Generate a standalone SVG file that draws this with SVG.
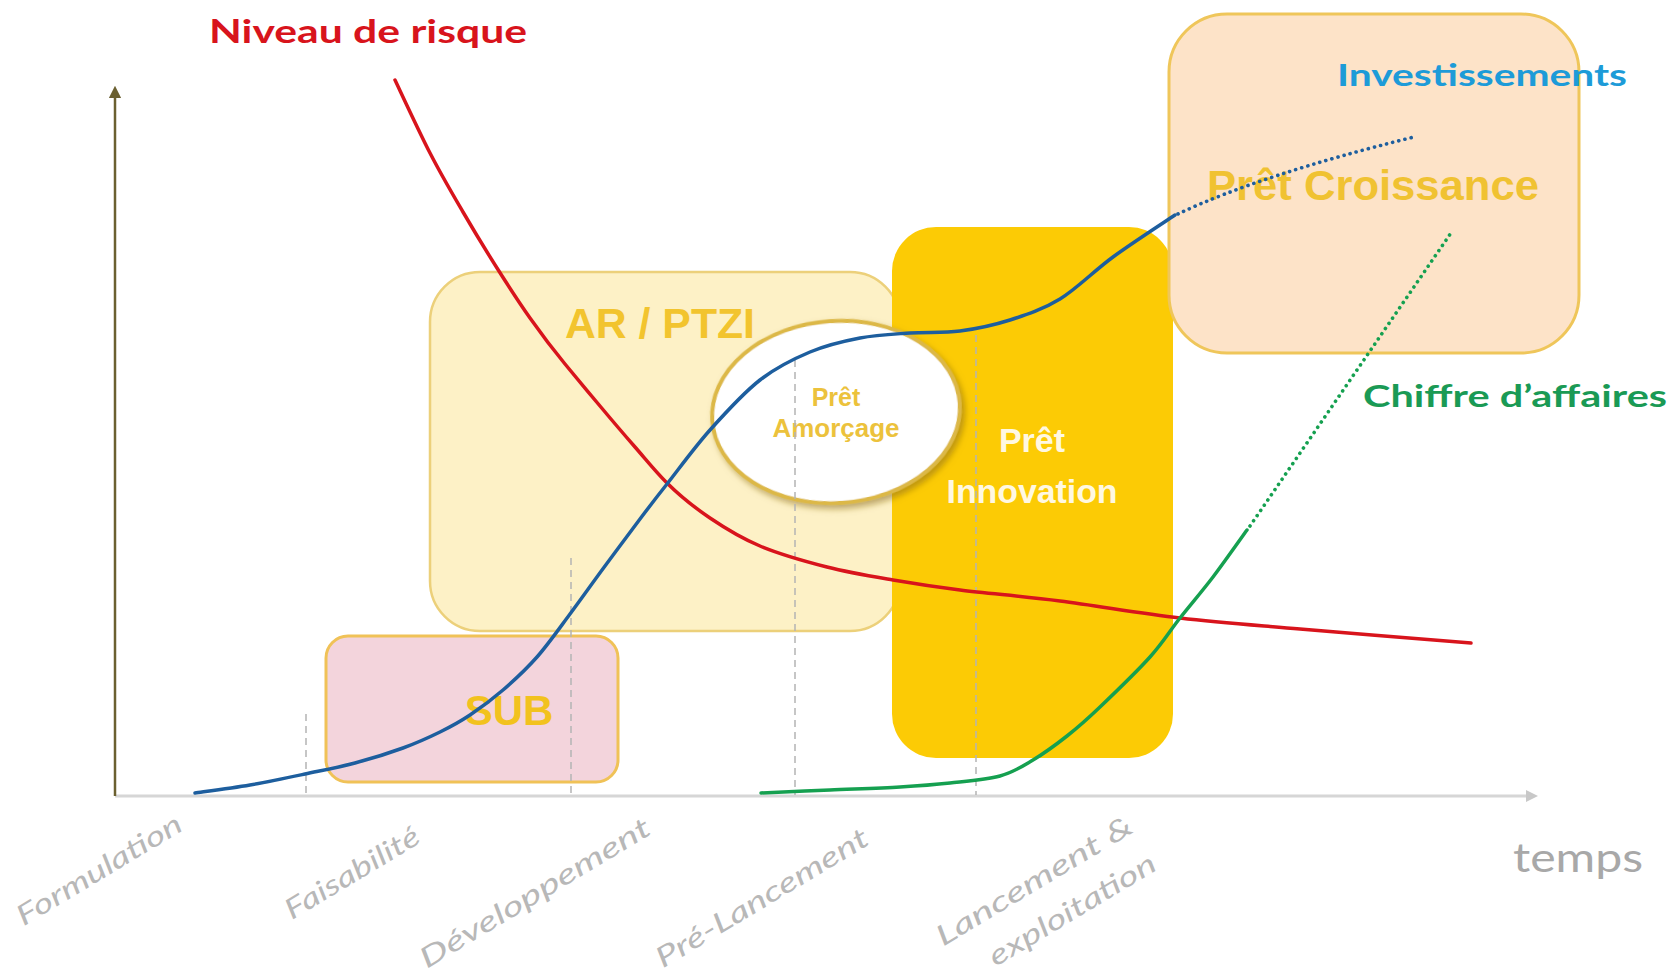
<svg xmlns="http://www.w3.org/2000/svg" width="1673" height="973" viewBox="0 0 1673 973">
<style>
.lbl{font-family:Lato,"Liberation Sans",sans-serif;font-weight:bold}
.box{font-family:"Liberation Sans",Arial,sans-serif;font-weight:bold;text-anchor:middle}
.ax{font-family:Lato,"Liberation Sans",sans-serif;font-style:italic;font-size:28px;fill:#b8b8b8;text-anchor:middle}
.dash{stroke:#b4b4b4;stroke-width:1.5;stroke-dasharray:7 5;fill:none}
.curve{fill:none;stroke-width:3.5;stroke-linecap:round;stroke-linejoin:round}
.dots{fill:none;stroke-width:3.6;stroke-linecap:round;stroke-dasharray:0.1 6.2}
</style>
<defs>
<marker id="arrUp" viewBox="0 0 10 10" refX="5" refY="5" markerWidth="5" markerHeight="5" orient="auto">
<path d="M0,0 L10,5 L0,10 z" fill="#6b6030"/>
</marker>
<marker id="arrRight" viewBox="0 0 10 10" refX="5" refY="5" markerWidth="4" markerHeight="4" orient="auto">
<path d="M0,0 L10,5 L0,10 z" fill="#c8c8c8"/>
</marker>
<filter id="shadow" x="-20%" y="-20%" width="140%" height="140%">
<feDropShadow dx="3" dy="4" stdDeviation="3" flood-color="#8a6a10" flood-opacity="0.55"/>
</filter>
</defs>
<rect width="1673" height="973" fill="#ffffff"/>

<g id="axes">
<line x1="115" y1="796" x2="1532" y2="796" stroke="#d6d6d6" stroke-width="3" marker-end="url(#arrRight)"/>
<line x1="115" y1="796" x2="115" y2="92" stroke="#6b6030" stroke-width="2.5" marker-end="url(#arrUp)"/>
</g>

<g id="node-ar">
<rect x="430" y="272" width="470" height="359" rx="50" fill="#fdf1c6" stroke="#ecd07a" stroke-width="2.5"/>
<text class="box" x="660" y="338" font-size="42" fill="#f2c42e" textLength="190" lengthAdjust="spacingAndGlyphs">AR / PTZI</text>
</g>

<g id="node-sub">
<rect x="326" y="636" width="292" height="146" rx="22" fill="#f3d4dc" stroke="#f0c257" stroke-width="3"/>
<text class="box" x="509" y="725" font-size="42" fill="#f2c21e">SUB</text>
</g>

<g id="node-innovation">
<rect x="892" y="227" width="281" height="531" rx="44" fill="#fccb05"/>
<text class="box" x="1032" y="452" font-size="34" fill="#fff8e2">Prêt</text>
<text class="box" x="1032" y="503" font-size="34" fill="#fff8e2" textLength="171" lengthAdjust="spacingAndGlyphs">Innovation</text>
</g>

<g id="node-croissance">
<rect x="1169" y="14" width="410" height="339" rx="58" fill="#fde3c8" stroke="#efc65a" stroke-width="3"/>
<text class="box" x="1373" y="200" font-size="42" fill="#f0c232" textLength="332" lengthAdjust="spacingAndGlyphs">Prêt Croissance</text>
</g>

<g id="node-amorcage">
<ellipse cx="836" cy="412" rx="124" ry="91" transform="rotate(-4 836 412)" fill="#ffffff" stroke="#dcb846" stroke-width="4" filter="url(#shadow)"/>
<text class="box" x="836" y="406" font-size="25" fill="#ecc23c">Prêt</text>
<text class="box" x="836" y="437" font-size="25" fill="#ecc23c" textLength="127" lengthAdjust="spacingAndGlyphs">Amorçage</text>
</g>

<g id="guides">
<line class="dash" x1="306" y1="714" x2="306" y2="795"/>
<line class="dash" x1="571" y1="558" x2="571" y2="795"/>
<line class="dash" x1="795" y1="360" x2="795" y2="795"/>
<line class="dash" x1="976" y1="335" x2="976" y2="795"/>
</g>

<g id="connectors">
<path id="risque" class="curve" stroke="#d8141c" d="M395,80 C400.8,92.2 418.7,131 430,153 C441.3,175 451.8,192.8 463,212 C474.2,231.2 485.8,250.3 497,268 C508.2,285.7 518.7,302 530,318 C541.3,334 553.3,349.8 565,364 C576.7,378.2 588.3,392 600,406 C611.7,420 623.8,434.2 635,447 C646.2,459.8 655,471 667,483 C679,495 694.5,507.5 710,518 C725.5,528.5 740.5,537.8 760,546 C779.5,554.2 804.8,561.3 827,567 C849.2,572.7 870.8,576.2 893,580 C915.2,583.8 932.2,586.5 960,590 C987.8,593.5 1023.3,596.3 1060,601 C1096.7,605.7 1140,613.3 1180,618 C1220,622.7 1251.5,624.8 1300,629 C1348.5,633.2 1442.5,640.7 1471,643"/>
<path id="invest" class="curve" stroke="#1d5e9e" d="M195,793 C204.2,791.7 231.7,788.2 250,785 C268.3,781.8 287.5,777.7 305,774 C322.5,770.3 338.7,767.3 355,763 C371.3,758.7 388.8,753.2 403,748 C417.2,742.8 428.8,737.5 440,732 C451.2,726.5 459.5,722 470,715 C480.5,708 491.8,699.7 503,690 C514.2,680.3 525.8,669.7 537,657 C548.2,644.3 558.7,629.2 570,614 C581.3,598.8 593.3,581.8 605,566 C616.7,550.2 629.7,532.7 640,519 C650.3,505.3 655.3,498.8 667,484 C678.7,469.2 694.5,447.3 710,430 C725.5,412.7 743.3,393 760,380 C776.7,367 793.3,359 810,352 C826.7,345 843.3,341.2 860,338 C876.7,334.8 893.3,334.2 910,333 C926.7,331.8 943.3,333.2 960,331 C976.7,328.8 993.3,325.3 1010,320 C1026.7,314.7 1042.8,309.5 1060,299 C1077.2,288.5 1093.8,271 1113,257 C1132.2,243 1164.7,222 1175,215"/>
<path id="invest-proj" class="dots" stroke="#1d5e9e" d="M1178,214 Q1260,175 1414,137"/>
<path id="ca" class="curve" stroke="#15a050" d="M761,793 C772.5,792.5 806.8,791 830,790 C853.2,789 880,788.2 900,787 C920,785.8 933.3,784.8 950,783 C966.7,781.2 986.2,779.8 1000,776 C1013.8,772.2 1021.8,766.7 1033,760 C1044.2,753.3 1055.8,744.8 1067,736 C1078.2,727.2 1086.2,720.2 1100,707 C1113.8,693.8 1136.7,671.8 1150,657 C1163.3,642.2 1169.5,631.3 1180,618 C1190.5,604.7 1201.8,591.7 1213,577 C1224.2,562.3 1241.3,537.8 1247,530"/>
<path id="ca-proj" class="dots" stroke="#15a050" d="M1250,526 L1453,230"/>
</g>

<g id="labels">
<text class="lbl" x="209" y="43" font-size="32" fill="#d8141c" textLength="318" lengthAdjust="spacingAndGlyphs">Niveau de risque</text>
<text class="lbl" x="1337" y="86" font-size="31" fill="#1d9bd8" textLength="290" lengthAdjust="spacingAndGlyphs">Investissements</text>
<text class="lbl" x="1363" y="407" font-size="31" fill="#1a9a55" textLength="304" lengthAdjust="spacingAndGlyphs">Chiffre d’affaires</text>
<text x="1513" y="872" font-family="Lato,'Liberation Sans',sans-serif" font-size="40" fill="#a8a8a8" textLength="130" lengthAdjust="spacingAndGlyphs">temps</text>
<text class="ax" transform="translate(104,878) rotate(-31)" textLength="188" lengthAdjust="spacingAndGlyphs">Formulation</text>
<text class="ax" transform="translate(357,881) rotate(-31)" textLength="152" lengthAdjust="spacingAndGlyphs">Faisabilité</text>
<text class="ax" transform="translate(540,901) rotate(-31)" textLength="264" lengthAdjust="spacingAndGlyphs">Développement</text>
<text class="ax" transform="translate(767,906) rotate(-31)" textLength="243" lengthAdjust="spacingAndGlyphs">Pré-Lancement</text>
<text class="ax" transform="translate(1039,889) rotate(-31)" textLength="224" lengthAdjust="spacingAndGlyphs">Lancement  &amp;</text>
<text class="ax" transform="translate(1077,918) rotate(-31)" textLength="190" lengthAdjust="spacingAndGlyphs">exploitation</text>
</g>
</svg>
